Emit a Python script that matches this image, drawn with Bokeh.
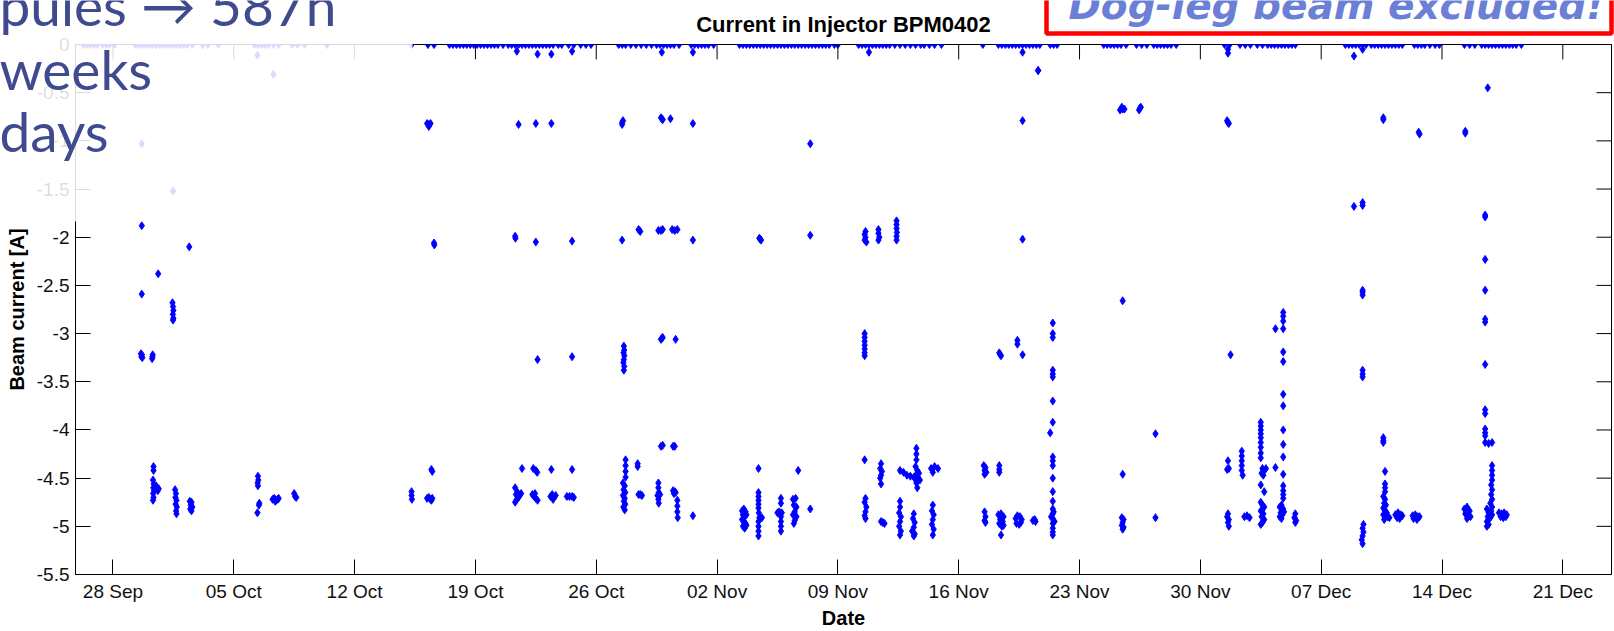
from bokeh.plotting import figure
from bokeh.models import Range1d, FixedTicker, ColumnDataSource
from bokeh.core.properties import value
from bokeh.embed import file_html
from bokeh.resources import INLINE

# ---------------- data (days after 28 Sep, beam current in A) ----------------
tick_days = [0, 7, 14, 21, 28, 35, 42, 49, 56, 63, 70, 77, 84]
tick_labels = ["28 Sep", "05 Oct", "12 Oct", "19 Oct", "26 Oct", "02 Nov", "09 Nov",
               "16 Nov", "23 Nov", "30 Nov", "07 Dec", "14 Dec", "21 Dec"]
y_ticks = [0, -0.5, -1, -1.5, -2, -2.5, -3, -3.5, -4, -4.5, -5, -5.5]
y_tick_labels = ["0", "-0.5", "-1", "-1.5", "-2", "-2.5", "-3", "-3.5", "-4", "-4.5", "-5", "-5.5"]

# samples with no beam (0 A)
zero_days = [
    -1.7, -1.5, -1.3, -1.1, -0.9, -0.6, -0.4, -0.2, 0.1,
    1.3, 1.5, 1.7, 1.9, 2.1, 2.3, 2.5, 2.7, 2.9, 3.1, 3.3, 3.5, 3.7, 3.9, 4.1, 4.3, 4.6,
    5.2, 5.5, 6.1, 8.2, 8.4, 8.6, 8.8, 9.0, 9.3, 9.6, 10.4, 10.7, 11.1, 12.4,
    17.3, 18.25, 18.6, 19.5, 19.7, 19.9, 20.1, 20.3, 20.5, 20.7, 20.9, 21.1, 21.3, 21.5, 21.7,
    21.9, 22.1, 22.3, 22.6, 22.9, 23.1, 23.3, 23.5, 23.7, 23.9, 24.1, 24.3, 24.5, 24.7, 24.9,
    25.1, 25.3, 25.5, 25.8, 26.0, 26.4, 26.7, 27.1, 27.4, 27.7,
    29.3, 29.5, 29.7, 30.0, 30.3, 30.6, 30.9, 31.2, 31.5, 31.7, 31.9, 32.1, 32.3, 32.5, 32.8,
    33.5, 33.7, 33.9, 34.1, 34.3, 34.5, 34.8,
    36.3, 36.5, 36.7, 36.9, 37.1, 37.3, 37.5, 37.7, 37.9, 38.1, 38.3, 38.5, 38.7, 38.9, 39.1,
    39.3, 39.5, 39.7, 39.9, 40.1, 40.3, 40.5, 40.7, 40.9, 41.1, 41.3, 41.5, 41.8, 42.0,
    43.2, 43.4, 43.6, 43.8, 44.0, 44.2, 44.4, 44.6, 44.8, 45.0, 45.3, 45.6, 45.9, 46.2, 46.5,
    46.8, 47.0, 47.3, 47.6, 48.0, 50.4,
    51.3, 51.5, 51.7, 51.9, 52.1, 52.3, 52.5, 52.7, 52.9, 53.1, 53.3, 53.5, 53.7,
    54.3, 54.5, 54.7, 57.4, 57.6, 57.8, 58.0, 58.2, 58.4, 58.7, 59.3, 59.6, 59.9,
    60.3, 60.5, 60.7, 60.9, 61.1, 61.3, 61.6, 64.4, 64.7, 65.3, 65.6, 65.9,
    66.3, 66.6, 66.9, 67.1, 67.3, 67.5, 67.7, 67.9, 68.1, 68.3, 68.5,
    71.4, 71.6, 71.8, 72.0, 72.2, 72.4, 72.6, 72.9, 73.1, 73.3, 73.5, 73.7, 73.9, 74.1, 74.3,
    74.5, 74.7, 75.4, 75.6, 75.8, 76.0, 76.3, 76.6, 76.85, 78.3, 78.6, 78.9,
    79.3, 79.5, 79.7, 79.9, 80.1, 80.3, 80.5, 80.7, 80.9, 81.1, 81.3, 81.6,
]

# small negative readings just below zero
low_days = [8.37, 9.3, 23.4, 24.6, 25.4, 26.6, 31.8, 33.6, 43.8, 52.7, 53.6, 64.6, 64.6, 71.9, 72.4]
low_amps = [-0.11, -0.31, -0.07, -0.10, -0.10, -0.07, -0.08, -0.08, -0.08, -0.08, -0.27, -0.05, -0.09, -0.12, -0.05]

# 28 Sep - 12 Oct
wk1_days = [1.67, 3.48, 1.67, 4.42, 2.62, 1.67,
            3.45, 3.48, 3.50, 3.47, 3.50, 3.48,
            1.62, 1.68, 1.70, 1.65, 2.29, 2.27, 2.30,
            2.35, 2.35, 2.32, 2.36, 2.34, 2.38, 2.33, 2.35, 2.32, 2.65, 2.60, 2.50,
            3.60, 3.65, 3.62, 3.68, 3.63, 3.70, 3.66, 3.68,
            4.45, 4.55, 4.50, 4.60, 4.48, 4.55,
            8.40, 8.42, 8.38, 8.40, 8.46, 8.48, 8.37,
            9.25, 9.35, 9.45, 9.55, 9.60, 9.40, 10.50, 10.55, 10.62]
wk1_amps = [-1.03, -1.52, -1.88, -2.10, -2.38, -2.59,
            -2.68, -2.72, -2.76, -2.80, -2.84, -2.86,
            -3.21, -3.22, -3.25, -3.24, -3.24, -3.26, -3.22,
            -4.38, -4.42, -4.52, -4.56, -4.60, -4.63, -4.66, -4.70, -4.73, -4.61, -4.63, -4.58,
            -4.62, -4.66, -4.70, -4.73, -4.77, -4.80, -4.84, -4.87,
            -4.74, -4.75, -4.78, -4.80, -4.82, -4.84,
            -4.48, -4.52, -4.55, -4.58, -4.78, -4.76, -4.86,
            -4.72, -4.71, -4.73, -4.72, -4.71, -4.74, -4.66, -4.69, -4.70]

# 12 Oct - 26 Oct
wk2_days = [18.2, 18.3, 18.4, 18.3, 23.5, 24.5, 25.4,
            18.6, 18.62, 23.3, 23.32, 24.5, 26.6, 24.6, 26.6,
            17.3, 17.3, 17.32, 18.5, 18.45, 18.2, 18.3, 18.4, 18.5, 18.45,
            23.7, 23.3, 23.35, 23.45, 23.55, 23.65, 23.4, 23.3, 23.5,
            24.35, 24.5, 24.58, 24.3, 24.4, 24.5, 24.6, 24.45,
            25.4, 25.35, 25.45, 25.55, 25.65, 25.5,
            26.6, 26.3, 26.45, 26.6, 26.7]
wk2_amps = [-0.82, -0.83, -0.82, -0.85, -0.83, -0.82, -0.82,
            -2.06, -2.08, -1.99, -2.01, -2.05, -2.04, -3.27, -3.24,
            -4.64, -4.68, -4.72, -4.43, -4.41, -4.71, -4.70, -4.72, -4.71, -4.73,
            -4.40, -4.60, -4.67, -4.65, -4.68, -4.66, -4.72, -4.75, -4.70,
            -4.40, -4.42, -4.44, -4.67, -4.69, -4.71, -4.73, -4.66,
            -4.41, -4.69, -4.67, -4.70, -4.68, -4.72,
            -4.41, -4.69, -4.69, -4.69, -4.70]

# 26 Oct - 09 Nov
wk3_days = [29.5, 29.55, 29.5, 31.8, 31.75, 31.85, 32.3,
            29.5, 30.5, 30.45, 30.55, 31.6, 31.75, 31.85, 32.4, 32.55, 32.7,
            29.6, 29.62, 29.58, 29.63, 29.6, 29.57, 29.62, 29.6,
            31.8, 31.75, 31.85, 32.6,
            29.7, 29.7, 29.7, 29.7,
            29.55, 29.65, 29.58, 29.68, 29.55, 29.65, 29.6, 29.68, 29.57, 29.65,
            30.4, 30.4, 30.45, 30.55, 30.65,
            31.75, 31.85, 32.45, 32.55,
            31.6, 31.6, 31.62, 31.55, 31.7, 31.6, 31.62,
            32.45, 32.55, 32.5, 32.6, 32.7, 32.7, 32.7, 32.72,
            33.6, 33.6, 33.6,
            36.45, 36.55, 36.65, 36.5, 36.6, 36.7, 36.45, 36.55, 36.65, 36.5, 36.6, 36.7,
            37.4, 37.4, 37.4, 37.4, 37.4, 37.42, 37.45, 37.6, 37.4, 37.4, 37.4, 37.4, 37.4,
            37.5, 37.45, 37.55,
            38.7, 38.7, 38.6, 38.5, 38.75, 38.7, 38.7, 38.7, 38.7,
            39.4, 39.55, 39.45, 39.6, 39.5, 39.4, 39.6, 39.5, 39.45,
            39.7, 40.4, 40.4, 40.4]
wk3_amps = [-0.81, -0.79, -0.83, -0.77, -0.76, -0.78, -0.77,
            -2.03, -1.93, -1.92, -1.94, -1.93, -1.93, -1.92, -1.92, -1.93, -1.92,
            -3.13, -3.17, -3.20, -3.23, -3.27, -3.30, -3.34, -3.38,
            -3.05, -3.06, -3.04, -3.06,
            -4.31, -4.37, -4.43, -4.49,
            -4.55, -4.58, -4.62, -4.65, -4.68, -4.71, -4.74, -4.77, -4.80, -4.83,
            -4.38, -4.35, -4.67, -4.67, -4.68,
            -4.17, -4.16, -4.17, -4.17,
            -4.55, -4.60, -4.65, -4.68, -4.67, -4.72, -4.76,
            -4.63, -4.64, -4.66, -4.65, -4.73, -4.79, -4.85, -4.91,
            -0.82, -2.03, -4.89,
            -4.84, -4.82, -4.85, -4.88, -4.90, -4.88, -4.93, -4.95, -4.97, -5.00, -5.02, -4.99,
            -4.65, -4.69, -4.73, -4.77, -4.81, -4.86, -4.91, -4.91, -4.95, -5.00, -5.05, -5.10, -4.40,
            -2.02, -2.01, -2.03,
            -4.71, -4.76, -4.85, -4.86, -4.86, -4.90, -4.95, -5.00, -5.05,
            -4.72, -4.71, -4.78, -4.80, -4.85, -4.88, -4.90, -4.94, -4.97,
            -4.42, -4.82, -1.03, -1.98]

# 09 Nov - 23 Nov
wk4_days = [43.6, 43.55, 43.6, 43.55, 43.65, 44.35, 44.35, 44.4, 44.35,
            45.4, 45.4, 45.4, 45.42, 45.4, 45.4,
            43.55, 43.55, 43.55, 43.55, 43.55, 43.55, 43.55, 43.55,
            44.5, 44.45, 44.55, 44.5, 44.45, 44.5,
            43.6, 43.55, 43.65, 43.6, 43.55, 43.6, 44.5, 44.6, 44.7,
            45.6, 45.6, 45.55, 45.65, 45.6, 45.55, 45.65, 45.6,
            46.4, 46.35, 46.45, 46.4, 46.3, 46.45, 46.4,
            47.5, 47.45, 47.55, 47.5, 47.45, 47.55, 47.5,
            45.6, 45.8, 46.0, 46.2, 46.4,
            46.55, 46.55, 46.55, 46.5, 46.6, 46.55, 46.45, 46.65, 46.55, 46.6, 46.7, 46.75,
            47.4, 47.6, 47.8, 47.5,
            50.45, 50.55, 50.5, 50.6, 50.5, 50.5, 50.55, 50.5, 50.55,
            52.7, 53.6, 52.7, 51.4, 51.35, 51.45, 52.4, 52.4, 52.7,
            54.45, 54.45, 54.45, 54.45, 54.45, 54.45, 54.45, 54.45, 54.3, 54.45, 54.45, 54.45,
            54.45, 54.45, 54.45, 54.45, 54.45, 54.45, 54.45, 54.45, 54.45, 54.45, 54.35, 54.55, 54.5,
            51.35, 51.35, 51.35,
            51.3, 51.45, 51.6, 51.4, 51.55, 51.35, 51.5, 51.6, 51.45,
            52.3, 52.4, 52.55, 52.65, 52.35, 52.5, 52.6, 53.4, 53.45, 53.3]
wk4_amps = [-1.94, -1.97, -2.00, -2.03, -2.05, -1.92, -1.96, -2.00, -2.03,
            -1.83, -1.87, -1.91, -1.95, -1.99, -2.03,
            -3.00, -3.04, -3.08, -3.12, -3.16, -3.20, -3.23, -4.31,
            -4.35, -4.40, -4.43, -4.47, -4.50, -4.56,
            -4.71, -4.75, -4.80, -4.85, -4.89, -4.92, -4.95, -4.96, -4.97,
            -4.74, -4.80, -4.86, -4.90, -4.95, -5.00, -5.05, -5.09,
            -4.87, -4.92, -4.96, -5.01, -5.05, -5.08, -5.10,
            -4.78, -4.84, -4.88, -4.93, -4.98, -5.03, -5.09,
            -4.42, -4.44, -4.47, -4.48, -4.49,
            -4.19, -4.25, -4.31, -4.38, -4.42, -4.46, -4.50, -4.50, -4.55, -4.60, -4.45, -4.52,
            -4.40, -4.38, -4.40, -4.44,
            -4.37, -4.39, -4.42, -4.44, -4.46, -4.85, -4.90, -4.94, -4.96,
            -0.79, -0.27, -2.02, -3.22, -3.20, -3.23, -3.07, -3.11, -3.22,
            -2.89, -3.00, -3.04, -3.38, -3.42, -3.45, -3.70, -3.92, -4.03, -4.28, -4.32, -4.37,
            -4.50, -4.64, -4.74, -4.82, -4.87, -4.92, -4.97, -5.02, -5.06, -5.09, -4.90, -4.95, -4.85,
            -4.37, -4.41, -4.44,
            -4.88, -4.87, -4.90, -4.93, -4.95, -4.97, -5.00, -4.99, -5.09,
            -4.92, -4.89, -4.90, -4.93, -4.97, -4.98, -4.96, -4.93, -4.95, -4.94]

# 23 Nov - 07 Dec
wk5_days = [58.5, 58.35, 58.45, 58.6, 59.5, 59.45, 59.55,
            58.5, 58.5, 58.45, 58.55, 58.5, 58.45, 58.55, 58.5, 60.4, 60.4,
            64.6, 64.55, 64.65, 64.75, 64.6, 64.65, 64.55,
            64.6, 64.55, 64.65, 64.6, 64.65, 65.55, 65.7, 65.85,
            65.4, 65.4, 65.4, 65.4, 65.4, 65.45,
            66.5, 66.5, 66.5, 66.5, 66.5, 66.5, 66.5, 66.5, 66.5,
            66.6, 66.7, 66.8, 66.55, 66.65, 66.5, 66.7,
            66.5, 66.6, 66.7, 66.5, 66.65, 66.55, 66.7, 66.6, 66.5,
            67.35, 67.35,
            67.8, 67.8, 67.8, 67.8, 67.8, 67.8, 67.8, 67.8, 67.8, 67.8, 67.8, 67.8, 67.8, 67.8,
            67.8, 67.8,
            67.6, 67.7, 67.8, 67.65, 67.75, 67.85, 67.6, 67.7,
            68.5, 68.45, 68.55, 68.5]
wk5_amps = [-0.67, -0.68, -0.65, -0.67, -0.66, -0.68, -0.65,
            -2.66, -4.46, -4.91, -4.93, -4.96, -4.99, -5.01, -5.03, -4.04, -4.91,
            -0.81, -0.79, -0.82, -3.22, -4.32, -4.40, -4.41,
            -4.87, -4.90, -4.93, -4.96, -5.00, -4.90, -4.89, -4.91,
            -4.22, -4.27, -4.32, -4.37, -4.42, -4.47,
            -3.92, -3.96, -4.00, -4.04, -4.08, -4.13, -4.18, -4.24, -4.29,
            -4.40, -4.42, -4.40, -4.45, -4.47, -4.57, -4.64,
            -4.75, -4.78, -4.80, -4.84, -4.87, -4.90, -4.93, -4.96, -4.98,
            -2.95, -4.39,
            -2.78, -2.82, -2.87, -2.95, -3.19, -3.29, -3.63, -3.75, -4.00, -4.15, -4.28, -4.46,
            -4.58, -4.63, -4.67, -4.71,
            -4.80, -4.78, -4.82, -4.86, -4.88, -4.85, -4.90, -4.92,
            -4.87, -4.91, -4.94, -4.96]

# 07 Dec - 21 Dec
wk6_days = [73.6, 73.6, 75.7, 75.65, 78.35, 78.35, 79.65,
            71.9, 72.4, 72.4,
            79.5, 79.5, 79.5, 79.5, 79.5, 79.5, 79.5, 79.5, 79.5, 79.5, 79.5, 79.5, 79.5, 79.9, 79.7,
            72.4, 72.4, 72.4, 72.4, 72.4, 72.4,
            73.6, 73.6, 73.6, 73.7, 73.7, 73.7, 73.7,
            73.6, 73.7, 73.65, 73.75, 73.6, 73.7, 73.8, 73.6, 73.7, 73.85, 73.95, 73.65,
            74.3, 74.45, 74.6, 74.4, 74.55, 74.7,
            75.3, 75.45, 75.6, 75.35, 75.55, 75.7,
            78.3, 78.45, 78.6, 78.35, 78.5, 78.65, 78.45,
            79.9, 79.9, 79.9, 79.9, 79.85, 79.9, 79.85, 79.9, 79.8, 79.9, 79.85, 79.9, 79.8,
            79.6, 79.7, 79.65, 79.6, 79.7, 79.6,
            80.3, 80.45, 80.6, 80.75, 80.4, 80.55, 80.7,
            72.45, 72.4, 72.45, 72.4, 72.35, 72.4]
wk6_amps = [-0.78, -0.76, -0.93, -0.91, -0.92, -0.90, -0.45,
            -1.68, -1.64, -1.67,
            -1.77, -1.79, -2.23, -2.55, -2.85, -2.88, -3.32, -3.79, -3.83, -3.99, -4.03, -4.06, -4.13,
            -4.13, -4.14,
            -2.55, -2.57, -2.60, -3.38, -3.42, -3.45,
            -4.08, -4.11, -4.13, -4.43, -4.56, -4.60, -4.64,
            -4.69, -4.72, -4.76, -4.78, -4.81, -4.84, -4.86, -4.88, -4.90, -4.90, -4.91, -4.93,
            -4.88, -4.86, -4.88, -4.91, -4.92, -4.89,
            -4.89, -4.88, -4.90, -4.92, -4.93, -4.90,
            -4.82, -4.80, -4.84, -4.87, -4.89, -4.90, -4.92,
            -4.37, -4.42, -4.47, -4.52, -4.57, -4.62, -4.67, -4.72, -4.76, -4.80, -4.84, -4.88, -4.91,
            -4.82, -4.86, -4.90, -4.95, -4.98, -5.00,
            -4.86, -4.87, -4.86, -4.88, -4.90, -4.91, -4.90,
            -4.98, -5.02, -5.06, -5.10, -5.14, -5.18]

title_text = "Current in Injector BPM0402"
slide_lines = ["pules \u2192 587h", "weeks", "days"]
note_text = ["Dog-leg beam excluded!"]

# ---------------- main figure ----------------
all_days = zero_days + low_days + wk1_days + wk2_days + wk3_days + wk4_days + wk5_days + wk6_days
all_amps = ([0.0] * len(zero_days) + low_amps + wk1_amps + wk2_amps + wk3_amps + wk4_amps
            + wk5_amps + wk6_amps)
src = ColumnDataSource(dict(day=all_days, amp=all_amps))

X0, X1 = -2.17, 86.82
Y0, Y1 = -5.5, 0.0
p = figure(width=1614, height=631, output_backend="svg", toolbar_location=None,
           x_range=Range1d(X0, X1), y_range=Range1d(Y0, Y1),
           min_border_left=75, min_border_right=3, min_border_top=44, min_border_bottom=53)
p.background_fill_color = "white"
p.border_fill_color = "white"
p.outline_line_color = "black"
p.outline_line_width = 1
p.grid.visible = False

p.scatter("day", "amp", source=src, marker="diamond", size=8,
          fill_color="#0000ff", line_color="#0000ff", line_width=0.9)

# inward tick marks on the right and top edges of the box (MATLAB style), 15 px long
tick_len_x = 15 * (X1 - X0) / 1536
tick_len_y = 15 * (Y1 - Y0) / 534
p.segment(x0=[X1 - tick_len_x] * len(y_ticks), x1=[X1] * len(y_ticks), y0=y_ticks, y1=y_ticks,
          line_color="black", line_width=1)
p.segment(x0=tick_days, x1=tick_days, y0=[Y1 - tick_len_y] * len(tick_days), y1=[Y1] * len(tick_days),
          line_color="black", line_width=1)

FONT = "Liberation Sans"
xa = p.xaxis[0]
xa.ticker = FixedTicker(ticks=tick_days)
xa.major_label_overrides = {d: lab for d, lab in zip(tick_days, tick_labels)}
ya = p.yaxis[0]
ya.ticker = FixedTicker(ticks=y_ticks)
ya.major_label_overrides = {t: lab for t, lab in zip(y_ticks, y_tick_labels)}

for ax in (xa, ya):
    ax.major_tick_in = 15
    ax.major_tick_out = 0
    ax.minor_tick_in = 0
    ax.minor_tick_out = 0
    ax.axis_line_color = "black"
    ax.major_tick_line_color = "black"
    ax.major_label_text_font = FONT
    ax.major_label_text_font_size = "19px"
    ax.major_label_text_color = "#111111"
    ax.axis_label_text_font = FONT
    ax.axis_label_text_font_size = "20px"
    ax.axis_label_text_font_style = "bold"
    ax.axis_label_text_color = "black"

xa.axis_label = "Date"
xa.major_label_standoff = 6
xa.axis_label_standoff = 2
ya.axis_label = "Beam current [A]"
ya.major_label_standoff = 6
ya.axis_label_standoff = 6

p.title.text = title_text
p.title.align = "center"
p.title.text_font = FONT
p.title.text_font_size = "22px"
p.title.text_font_style = "bold"
p.title.text_color = "black"
p.title.standoff = 15

# ---------------- slide overlay (transparent canvas laid over the chart) ----------------
ov = figure(width=1614, height=631, output_backend="svg", toolbar_location=None, title=None,
            x_range=Range1d(0, 1614), y_range=Range1d(631, 0),
            x_axis_location=None, y_axis_location=None,
            min_border=0, min_border_left=0, min_border_right=0, min_border_top=0, min_border_bottom=0,
            background_fill_color=None, border_fill_color=None, outline_line_color=None)
ov.grid.visible = False
ov.quad(left=[0], right=[412], top=[0], bottom=[221], fill_color="white", fill_alpha=0.86,
        line_color=None)
# text centres chosen so that the baselines sit at about y = 23, 87 and 149 px
ov.text(x=[-1, -1, -1], y=[4.3, 68.3, 130.3], text=slide_lines, text_font=value("Lato"),
        text_font_size="55px", text_color="#404a8e", text_baseline="middle")
ov.quad(left=[1046], right=[1611], top=[-10], bottom=[33], fill_color=None,
        line_color="#ff0000", line_width=4.5)
ov.text(x=[1068], y=[4.5], text=note_text, text_font=value("DejaVu Sans"),
        text_font_size="39px", text_font_style="bold italic", text_color="#6b7fd7",
        text_baseline="middle")
ov.styles = {"position": "absolute", "left": "0px", "top": "0px"}

open("out.html", "w").write(file_html([p, ov], INLINE))
